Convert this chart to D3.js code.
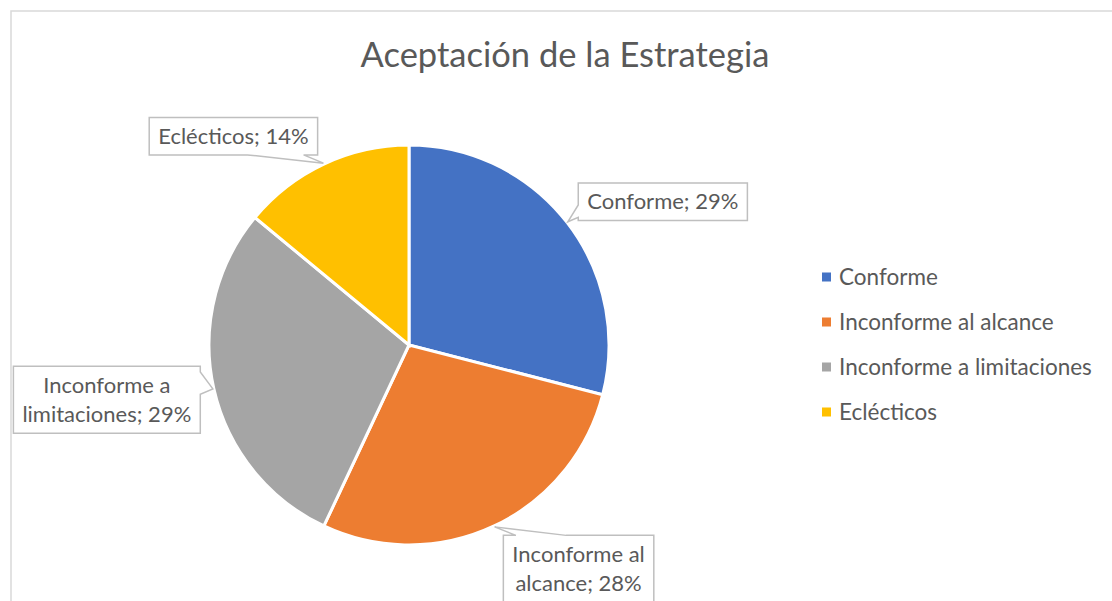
<!DOCTYPE html>
<meta charset="utf-8">
<style>
    body { margin: 0; background: #fff; }
    text { fill: #595959; font-family: Lato, "Open Sans", sans-serif; }
</style>
<body>
<script src="https://d3js.org/d3.v7.min.js"></script>
<script>

    // data
    var categories = ["Conforme", "Inconforme al alcance", "Inconforme a limitaciones", "Eclécticos"];
    var values = [29, 28, 29, 14];
    var labelLines = [
        ["Conforme; 29%"],
        ["Inconforme al", "alcance; 28%"],
        ["Inconforme a", "limitaciones; 29%"],
        ["Eclécticos; 14%"]
    ];
    var colors = ["#4472C4", "#ED7D31", "#A5A5A5", "#FFC000"];

    // callout box offsets from the pointer tip
    var calloutOffset = [[95, -20], [84, 42], [-106, 11], [-90, -27]];

    var width = 1112, height = 601,
        cx = 409, cy = 345, radius = 200;

    var svg = d3.select("body").append("svg")
            .attr("width", width)
            .attr("height", height);

    // chart frame
    svg.append("path")
            .attr("d", "M11," + height + "V11H" + width)
            .attr("fill", "none")
            .attr("stroke", "#d9d9d9")
            .attr("stroke-width", 1.5);

    svg.append("text")
            .attr("x", 565)
            .attr("y", 67)
            .attr("text-anchor", "middle")
            .style("font-size", "34.5px")
            .text("Aceptación de la Estrategia");

    var data = categories.map(function(c, i) { return {name: c, value: values[i], lines: labelLines[i], color: colors[i]}; });

    var pie = d3.pie().sort(null).value(function(d) { return d.value; });
    var arc = d3.arc().innerRadius(0).outerRadius(radius);
    var tipArc = d3.arc().innerRadius(radius + 1).outerRadius(radius + 1);

    var g = svg.append("g").attr("transform", "translate(" + cx + "," + cy + ")");
    var arcs = pie(data);

    g.selectAll("path.slice").data(arcs).enter().append("path")
            .attr("class", "slice")
            .attr("d", arc)
            .attr("fill", function(d) { return d.data.color; })
            .attr("stroke", "#fff")
            .attr("stroke-width", 3);

    // Excel-like wedge rectangle callout
    function callout(x, y, w, h, tx, ty) {
        var mx = x + w / 2, my = y + h / 2,
            dx = tx - mx, dy = ty - my,
            side;
        if (Math.abs(dx) / w > Math.abs(dy) / h) side = dx < 0 ? "left" : "right";
        else side = dy < 0 ? "top" : "bottom";
        var p = "M" + x + "," + y;
        if (side == "top") {
            var a = dx < 0 ? [1, 5] : [7, 11];
            p += "L" + (x + w * a[0] / 12) + "," + y + "L" + tx + "," + ty + "L" + (x + w * a[1] / 12) + "," + y;
        }
        p += "L" + (x + w) + "," + y;
        if (side == "right") {
            var b = dy < 0 ? [1, 5] : [7, 11];
            p += "L" + (x + w) + "," + (y + h * b[0] / 12) + "L" + tx + "," + ty + "L" + (x + w) + "," + (y + h * b[1] / 12);
        }
        p += "L" + (x + w) + "," + (y + h);
        if (side == "bottom") {
            var c = dx < 0 ? [5, 1] : [11, 7];
            p += "L" + (x + w * c[0] / 12) + "," + (y + h) + "L" + tx + "," + ty + "L" + (x + w * c[1] / 12) + "," + (y + h);
        }
        p += "L" + x + "," + (y + h);
        if (side == "left") {
            var e = dy < 0 ? [5, 1] : [11, 7];
            p += "L" + x + "," + (y + h * e[0] / 12) + "L" + tx + "," + ty + "L" + x + "," + (y + h * e[1] / 12);
        }
        return p + "Z";
    }

    var lineH = 29.5, padX = 9, padY = 8;
    var labels = svg.append("g").attr("class", "labels");

    arcs.forEach(function(d, i) {
        var tip = tipArc.centroid(d);
        var tx = cx + tip[0], ty = cy + tip[1];
        var bx = tx + calloutOffset[i][0], by = ty + calloutOffset[i][1];
        var lg = labels.append("g");
        var path = lg.append("path");
        var t = lg.append("text")
                .attr("text-anchor", "middle")
                .style("font-size", "22px");
        var n = d.data.lines.length;
        d.data.lines.forEach(function(line, k) {
            t.append("tspan")
                    .attr("x", bx)
                    .attr("y", by + (k - (n - 1) / 2) * lineH + 7.5)
                    .text(line);
        });
        var tw = t.node().getBBox().width;
        var w = tw + 2 * padX, h = n * lineH + padY;
        path.attr("d", callout(bx - w / 2, by - h / 2, w, h, tx, ty))
                .attr("fill", "#fff")
                .attr("stroke", "#bfbfbf")
                .attr("stroke-width", 1.5);
    });

    // legend
    var legend = svg.append("g").attr("transform", "translate(822,277)");
    var item = legend.selectAll("g").data(data).enter().append("g")
            .attr("transform", function(d, i) { return "translate(0," + i * 45 + ")"; });
    item.append("rect")
            .attr("x", 0).attr("y", -4.5)
            .attr("width", 9).attr("height", 9)
            .attr("fill", function(d) { return d.color; });
    item.append("text")
            .attr("x", 17)
            .attr("y", 7.5)
            .style("font-size", "22.5px")
            .text(function(d) { return d.name; });

</script>
